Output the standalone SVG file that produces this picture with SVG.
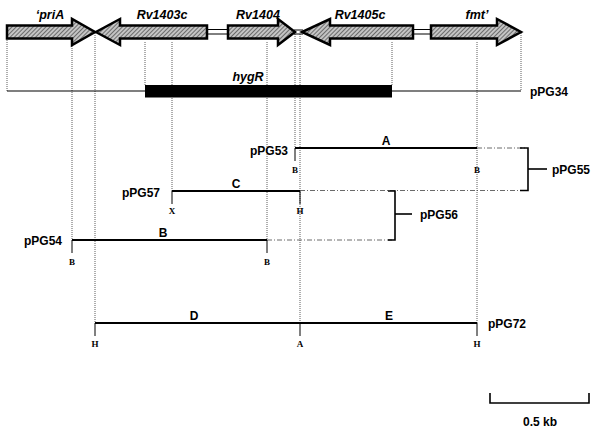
<svg xmlns="http://www.w3.org/2000/svg" width="600" height="433" viewBox="0 0 600 433">
<defs>
<pattern id="hatch" width="3" height="3" patternUnits="userSpaceOnUse" patternTransform="rotate(45)">
<rect width="3" height="3" fill="#c4c4c4"/>
<line x1="0" y1="0" x2="0" y2="3" stroke="#444" stroke-width="1.4"/>
</pattern>
<style>
.gene{fill:url(#hatch);stroke:#000;stroke-width:2.5;stroke-linejoin:miter}
.glab{font-family:"Liberation Sans",Arial,sans-serif;font-weight:bold;font-style:italic;font-size:12.5px;text-anchor:middle}
.lab{font-family:"Liberation Sans",Arial,sans-serif;font-weight:bold;font-size:12px}
.site{font-family:"Liberation Serif","Times New Roman",serif;font-weight:bold;font-size:9px;text-anchor:middle}
.dot{stroke:#333;stroke-width:0.8;stroke-dasharray:1 1;fill:none}
.dd{stroke:#444;stroke-width:0.8;stroke-dasharray:5 2 1 2;fill:none}
.frag{stroke:#000;stroke-width:2;fill:none}
.thin{stroke:#000;stroke-width:1.2;fill:none}
.tick{stroke:#000;stroke-width:1;fill:none}
.br{stroke:#000;stroke-width:1.6;fill:none}
</style>
</defs>
<rect width="600" height="433" fill="#fff"/>

<g id="connectors">
<line class="dot" x1="7" y1="38" x2="7" y2="91"/>
<line class="dot" x1="72" y1="42" x2="72" y2="240"/>
<line class="dot" x1="95" y1="33" x2="95" y2="323"/>
<line class="dot" x1="145" y1="42" x2="145" y2="85"/>
<line class="dot" x1="172" y1="42" x2="172" y2="191"/>
<line class="dot" x1="267" y1="42" x2="267" y2="240"/>
<line class="dot" x1="295" y1="34" x2="295" y2="148"/>
<line class="dot" x1="300" y1="34" x2="300" y2="323"/>
<line class="dot" x1="392" y1="42" x2="392" y2="85"/>
<line class="dot" x1="477" y1="42" x2="477" y2="323"/>
<line class="dot" x1="521" y1="33" x2="521" y2="91"/>
<line class="tick" x1="207" y1="29.5" x2="228" y2="29.5"/>
<line class="tick" x1="207" y1="34" x2="228" y2="34"/>
<line class="tick" x1="413" y1="29.5" x2="431" y2="29.5"/>
<line class="tick" x1="413" y1="34" x2="431" y2="34"/>
<line class="tick" x1="294" y1="30" x2="303" y2="30"/>
<line class="tick" x1="294" y1="34" x2="303" y2="34"/>
<line class="dd" x1="477" y1="148" x2="527" y2="148"/>
<line class="dd" x1="300" y1="190.5" x2="527" y2="190.5"/>
<line class="dd" x1="267" y1="240" x2="394" y2="240"/>
</g>

<g id="genes">
<g id="priA">
<polygon class="gene" points="7,25.5 72,25.5 72,19 95,32 72,45 72,38.5 7,38.5"/>
<text class="glab" x="50" y="19">‘priA</text>
</g>
<g id="Rv1403c">
<polygon class="gene" points="207,25.5 120,25.5 120,19 96,32 120,45 120,38.5 207,38.5"/>
<text class="glab" x="162" y="19">Rv1403c</text>
</g>
<g id="Rv1404">
<polygon class="gene" points="228,25.5 278,25.5 278,19 295,32 278,45 278,38.5 228,38.5"/>
<text class="glab" x="258" y="19">Rv1404</text>
</g>
<g id="Rv1405c">
<polygon class="gene" points="413,25.5 330,25.5 330,19 302,32 330,45 330,38.5 413,38.5"/>
<text class="glab" x="360" y="19">Rv1405c</text>
</g>
<g id="fmt">
<polygon class="gene" points="431,25.5 497,25.5 497,19 521,32 497,45 497,38.5 431,38.5"/>
<text class="glab" x="477" y="19">fmt’</text>
</g>
</g>

<g id="pPG34">
<line class="thin" x1="7" y1="91" x2="521" y2="91"/>
<rect x="145" y="85" width="247" height="12.5" fill="#000"/>
<text class="glab" x="248" y="81">hygR</text>
<text class="lab" x="530" y="96">pPG34</text>
</g>

<g id="pPG53">
<line class="frag" x1="295" y1="148" x2="477" y2="148"/>
<line class="tick" x1="295" y1="148" x2="295" y2="161"/>
<text class="site" x="295" y="173">B</text>
<text class="site" x="477" y="173">B</text>
<text class="lab" x="288" y="155" text-anchor="end">pPG53</text>
<text class="lab" x="386" y="145" text-anchor="middle" font-size="13">A</text>
</g>

<g id="pPG55">
<polyline class="br" points="520,148 528,148 528,190.5 520,190.5"/>
<line class="br" x1="528" y1="169" x2="547" y2="169"/>
<text class="lab" x="552" y="173.5">pPG55</text>
</g>

<g id="pPG57">
<line class="frag" x1="172" y1="191" x2="300" y2="191"/>
<line class="tick" x1="172" y1="191" x2="172" y2="204"/>
<line class="tick" x1="300" y1="191" x2="300" y2="204"/>
<text class="site" x="172" y="214">X</text>
<text class="site" x="300" y="214">H</text>
<text class="lab" x="160" y="197" text-anchor="end">pPG57</text>
<text class="lab" x="236" y="188" text-anchor="middle" font-size="13">C</text>
</g>

<g id="pPG56">
<polyline class="br" points="388,191 395,191 395,240 388,240"/>
<line class="br" x1="395" y1="214" x2="412" y2="214"/>
<text class="lab" x="420" y="218.5">pPG56</text>
</g>

<g id="pPG54">
<line class="frag" x1="72" y1="240" x2="267" y2="240"/>
<line class="tick" x1="72" y1="240" x2="72" y2="253"/>
<line class="tick" x1="267" y1="240" x2="267" y2="253"/>
<text class="site" x="72" y="265">B</text>
<text class="site" x="267" y="265">B</text>
<text class="lab" x="62" y="244.5" text-anchor="end">pPG54</text>
<text class="lab" x="163" y="237" text-anchor="middle" font-size="13">B</text>
</g>

<g id="pPG72">
<line class="frag" x1="95" y1="323" x2="477" y2="323"/>
<line class="tick" x1="95" y1="323" x2="95" y2="336"/>
<line class="tick" x1="300" y1="323" x2="300" y2="336"/>
<line class="tick" x1="477" y1="323" x2="477" y2="336"/>
<text class="site" x="95" y="347">H</text>
<text class="site" x="300" y="347">A</text>
<text class="site" x="477" y="347">H</text>
<text class="lab" x="194" y="320" text-anchor="middle" font-size="13">D</text>
<text class="lab" x="389" y="320" text-anchor="middle" font-size="13">E</text>
<text class="lab" x="488" y="328">pPG72</text>
</g>

<g id="scalebar">
<polyline class="br" points="490,393 490,403 589,403 589,393"/>
<text class="lab" x="540" y="426" text-anchor="middle">0.5 kb</text>
</g>
</svg>
